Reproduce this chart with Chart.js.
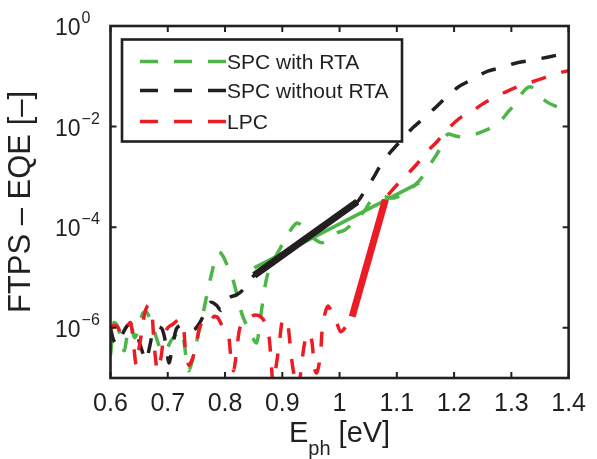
<!DOCTYPE html>
<html>
<head>
<meta charset="utf-8">
<script src="https://cdn.jsdelivr.net/npm/chart.js@4/dist/chart.umd.min.js"></script>
<style>
html,body{margin:0;padding:0;background:#fff;}
#wrap{width:597px;height:459px;position:relative;}
</style>
</head>
<body>
<div id="wrap"><canvas id="c" width="597" height="459"></canvas></div>
<script>
// ---------- DATA ----------
const xTickValues = [0.6, 0.7, 0.8, 0.9, 1.0, 1.1, 1.2, 1.3, 1.4];
const xTickLabels = ['0.6', '0.7', '0.8', '0.9', '1', '1.1', '1.2', '1.3', '1.4'];
const yTickValues = [1e-6, 1e-4, 1e-2, 1];
const yTickExponents = ['\u22126', '\u22124', '\u22122', '0'];

const seriesLabels = ['SPC with RTA', 'SPC without RTA', 'LPC'];

// SPC with RTA (green dashed)
const ephSpcRta = [0.600,0.603,0.606,0.612,0.618,0.624,0.630,0.636,0.642,0.650,0.656,0.662,0.668,0.676,0.683,0.690,0.698,0.706,0.714,0.722,0.728,0.732,0.736,0.742,0.750,0.756,0.762,0.770,0.778,0.785,0.790,0.797,0.805,0.814,0.822,0.830,0.838,0.846,0.855,0.860,0.865,0.872,0.880,0.890,0.900,0.912,0.925,0.935,0.945,0.958,0.968,0.980,0.995,1.010,1.025,1.042,1.054,1.065,1.080,1.095,1.110,1.128,1.143,1.160,1.174,1.183,1.190,1.200,1.212,1.230,1.245,1.263,1.280,1.295,1.306,1.318,1.327,1.333,1.340,1.350,1.362,1.375,1.390];
const eqeSpcRta = [2.8e-7,6.3e-7,1.26e-6,1.1e-6,6.3e-7,3.5e-7,7.9e-7,1.1e-6,6.3e-7,1.0e-6,1.9e-6,2.1e-6,1.6e-6,8.9e-7,5.0e-7,3.2e-7,3.8e-7,5.6e-7,7.1e-7,8.9e-7,5.6e-7,2.5e-7,1.4e-7,2.0e-7,5.0e-7,1.0e-6,2.0e-6,5.6e-6,1.4e-5,2.8e-5,3.2e-5,2.6e-5,1.6e-5,8.9e-6,4.0e-6,1.8e-6,1.1e-6,7.1e-7,5.0e-7,1.1e-6,2.8e-6,8.9e-6,1.8e-5,2.8e-5,4.5e-5,7.9e-5,1.2e-4,1.05e-4,7.1e-5,5.6e-5,4.9e-5,5.6e-5,7.6e-5,8.9e-5,1.26e-4,2.0e-4,3.2e-4,3.8e-4,4.0e-4,3.8e-4,4.5e-4,6.3e-4,9.5e-4,1.9e-3,3.4e-3,6.0e-3,7.1e-3,6.6e-3,6.3e-3,6.6e-3,7.6e-3,9.3e-3,1.26e-2,2.0e-2,2.8e-2,4.5e-2,5.8e-2,6.2e-2,5.6e-2,4.0e-2,3.1e-2,2.6e-2,2.3e-2];

// SPC without RTA (black dashed)
const ephSpcNoRta = [0.600,0.605,0.612,0.620,0.628,0.635,0.642,0.648,0.655,0.662,0.668,0.675,0.682,0.690,0.697,0.702,0.708,0.715,0.722,0.730,0.740,0.748,0.756,0.765,0.775,0.785,0.793,0.800,0.808,0.820,0.831,0.840,0.851,0.900,0.950,1.000,1.031,1.045,1.060,1.074,1.090,1.108,1.127,1.148,1.166,1.187,1.208,1.237,1.256,1.285,1.307,1.337,1.363,1.400];
const eqeSpcNoRta = [1.0e-6,5.8e-7,4.6e-7,7.1e-7,1.05e-6,1.2e-6,8.9e-7,6.3e-7,3.5e-7,2.2e-7,4.0e-7,8.9e-7,1.05e-6,9.5e-7,4.5e-7,2.0e-7,4.0e-7,9.5e-7,1.1e-6,1.0e-6,8.9e-7,9.5e-7,1.26e-6,2.0e-6,3.2e-6,2.8e-6,2.2e-6,3.2e-6,4.0e-6,4.5e-6,5.6e-6,7.9e-6,1.1e-5,2.8e-5,7.2e-5,1.8e-4,3.2e-4,5.5e-4,1.0e-3,1.9e-3,3.2e-3,5.4e-3,9.3e-3,1.5e-2,2.3e-2,3.9e-2,6.2e-2,9.3e-2,0.123,0.151,0.182,0.209,0.240,0.295];

// LPC (red dashed)
const ephLpc = [0.600,0.605,0.612,0.620,0.628,0.635,0.640,0.645,0.650,0.655,0.660,0.666,0.672,0.676,0.682,0.688,0.693,0.700,0.710,0.720,0.727,0.731,0.737,0.745,0.750,0.757,0.765,0.772,0.780,0.787,0.795,0.805,0.810,0.815,0.820,0.826,0.835,0.845,0.853,0.862,0.870,0.877,0.880,0.884,0.890,0.895,0.900,0.905,0.910,0.915,0.920,0.928,0.934,0.940,0.947,0.952,0.956,0.960,0.966,0.970,0.975,0.980,0.987,0.995,1.002,1.012,1.022,1.050,1.080,1.097,1.114,1.134,1.151,1.170,1.187,1.211,1.229,1.256,1.280,1.306,1.331,1.357,1.383,1.400];
const eqeLpc = [8.9e-7,1.1e-6,1.05e-6,7.1e-7,1.0e-6,1.26e-6,5.0e-7,1.8e-7,4.0e-7,8.9e-7,2.0e-6,2.8e-6,2.0e-6,5.0e-7,1.4e-7,2.5e-7,6.3e-7,1.0e-6,1.2e-6,1.45e-6,1.1e-6,3.5e-7,1.8e-7,2.8e-7,5.0e-7,1.1e-6,1.0e-6,1.1e-6,1.66e-6,1.6e-6,1.1e-6,7.9e-7,2.8e-7,1.4e-7,3.2e-7,1.0e-6,1.4e-6,1.66e-6,1.8e-6,1.66e-6,1.26e-6,6.3e-7,2.5e-7,7.9e-8,2.0e-7,5.0e-7,1.4e-6,1.5e-6,1.1e-6,3.2e-7,1.26e-7,6.3e-8,2.0e-7,5.6e-7,7.9e-7,5.0e-7,1.6e-7,1.26e-7,2.5e-7,1.0e-6,2.0e-6,2.7e-6,1.9e-6,1.26e-6,8.3e-7,1.1e-6,1.66e-6,2.2e-5,3.5e-4,6.3e-4,1.0e-3,1.74e-3,3.0e-3,5.0e-3,8.5e-3,1.5e-2,1.95e-2,3.1e-2,4.3e-2,5.9e-2,7.4e-2,9.3e-2,0.117,0.129];

// Fitted (solid) segments
const ephFitSpcRta = [0.851, 1.139];
const eqeFitSpcRta = [1.55e-5, 7.6e-4];
const ephFitSpcNoRta = [0.851, 1.031];
const eqeFitSpcNoRta = [1.1e-5, 3.2e-4];
const ephFitLpc = [1.022, 1.080];
const eqeFitLpc = [1.66e-6, 3.5e-4];

// ---------- STYLE ----------
const GREEN = 'rgb(77,182,72)';
const BLACK = '#231F20';
const RED = 'rgb(236,28,36)';
const FONT = '"Liberation Sans", Arial, Helvetica, sans-serif';
const DASH = [15, 16];

function pts(xs, ys) { return xs.map((x, i) => ({ x: x, y: ys[i] })); }

const frameAndLabels = {
  id: 'frameAndLabels',
  afterDatasetsDraw(chart) {
    const ctx = chart.ctx;
    const a = chart.chartArea;
    const xs = chart.scales.x, ys = chart.scales.y;
    ctx.save();
    // ticks (inward)
    ctx.strokeStyle = BLACK;
    ctx.lineWidth = 2;
    ctx.beginPath();
    xTickValues.forEach(v => {
      const px = xs.getPixelForValue(v);
      ctx.moveTo(px, a.bottom); ctx.lineTo(px, a.bottom - 6);
      ctx.moveTo(px, a.top); ctx.lineTo(px, a.top + 6);
    });
    yTickValues.forEach(v => {
      const py = ys.getPixelForValue(v);
      ctx.moveTo(a.left, py); ctx.lineTo(a.left + 6, py);
      ctx.moveTo(a.right, py); ctx.lineTo(a.right - 6, py);
    });
    ctx.stroke();
    // frame
    ctx.lineWidth = 2.6;
    ctx.strokeRect(a.left, a.top, a.right - a.left, a.bottom - a.top);

    // y tick labels 10^n
    ctx.fillStyle = BLACK;
    ctx.textBaseline = 'alphabetic';
    ctx.textAlign = 'left';
    yTickValues.forEach((v, i) => {
      const py = ys.getPixelForValue(v);
      ctx.font = '23px ' + FONT;
      ctx.fillText('10', 55, py + 9);
      const w = ctx.measureText('10').width;
      ctx.font = '16px ' + FONT;
      ctx.fillText(yTickExponents[i], 55 + w + 1, py - 3);
    });

    // x axis title E_ph [eV]
    ctx.font = '29px ' + FONT;
    const wE = ctx.measureText('E').width;
    const wR = ctx.measureText(' [eV]').width;
    ctx.font = '20px ' + FONT;
    const wS = ctx.measureText('ph').width;
    const total = wE + wS + wR;
    let x0 = (a.left + a.right) / 2 - total / 2;
    ctx.font = '29px ' + FONT;
    ctx.fillText('E', x0, 442);
    ctx.font = '20px ' + FONT;
    ctx.fillText('ph', x0 + wE, 455);
    ctx.font = '29px ' + FONT;
    ctx.fillText(' [eV]', x0 + wE + wS, 442);

    // legend
    const lx = a.left + 11.5, ly = a.top + 13.5, lw = 280, lh = 102;
    ctx.fillStyle = '#fff';
    ctx.fillRect(lx, ly, lw, lh);
    ctx.lineWidth = 2.6;
    ctx.strokeStyle = BLACK;
    ctx.strokeRect(lx, ly, lw, lh);
    const rows = [ly + 22, ly + 51, ly + 82];
    const dsIdx = [0, 1, 2];
    ctx.font = '21px ' + FONT;
    dsIdx.forEach((di, r) => {
      const ds = chart.data.datasets[di];
      ctx.save();
      ctx.strokeStyle = ds.borderColor;
      ctx.lineWidth = 3.5;
      ctx.lineCap = 'butt';
      ctx.setLineDash([18, 16]);
      ctx.beginPath();
      ctx.moveTo(lx + 18, rows[r]);
      ctx.lineTo(lx + 104, rows[r]);
      ctx.stroke();
      ctx.restore();
      ctx.fillStyle = BLACK;
      ctx.fillText(ds.label, lx + 105, rows[r] + 7.5);
    });
    ctx.restore();
  }
};

const common = { pointRadius: 0, pointHoverRadius: 0, fill: false, clip: 0, borderCapStyle: 'butt' };

new Chart(document.getElementById('c'), {
  type: 'line',
  data: {
    datasets: [
      Object.assign({ label: seriesLabels[0], data: pts(ephSpcRta, eqeSpcRta), borderColor: GREEN, borderWidth: 3.5, borderDash: DASH, tension: 0.3, order: 5 }, common),
      Object.assign({ label: seriesLabels[1], data: pts(ephSpcNoRta, eqeSpcNoRta), borderColor: BLACK, borderWidth: 3.5, borderDash: DASH, tension: 0.3, order: 4 }, common),
      Object.assign({ label: seriesLabels[2], data: pts(ephLpc, eqeLpc), borderColor: RED, borderWidth: 3.5, borderDash: DASH, tension: 0.3, order: 3 }, common),
      Object.assign({ label: seriesLabels[0] + ' fit', data: pts(ephFitSpcRta, eqeFitSpcRta), borderColor: GREEN, borderWidth: 3.5, tension: 0, order: 2 }, common),
      Object.assign({ label: seriesLabels[1] + ' fit', data: pts(ephFitSpcNoRta, eqeFitSpcNoRta), borderColor: BLACK, borderWidth: 7, tension: 0, order: 1 }, common),
      Object.assign({ label: seriesLabels[2] + ' fit', data: pts(ephFitLpc, eqeFitLpc), borderColor: RED, borderWidth: 7, tension: 0, order: 0 }, common)
    ]
  },
  options: {
    responsive: false,
    devicePixelRatio: 1,
    animation: false,
    events: [],
    layout: { padding: { top: 26, right: 20, left: 0, bottom: 0 } },
    plugins: { legend: { display: false }, tooltip: { enabled: false }, title: { display: false } },
    scales: {
      x: {
        type: 'linear', min: 0.6, max: 1.4,
        afterBuildTicks: s => { s.ticks = xTickValues.map(v => ({ value: v })); },
        afterFit: s => { s.height = 81; },
        grid: { display: false, drawTicks: false },
        border: { display: false },
        ticks: {
          autoSkip: false, maxRotation: 0, padding: 11, color: BLACK,
          font: { family: FONT, size: 25 },
          callback: (v, i) => xTickLabels[i]
        }
      },
      y: {
        type: 'logarithmic', min: 1e-7, max: 1,
        afterBuildTicks: s => { s.ticks = yTickValues.map(v => ({ value: v })); },
        afterFit: s => { s.width = 110.5; },
        grid: { display: false, drawTicks: false },
        border: { display: false },
        ticks: { display: false },
        title: {
          display: true, text: 'FTPS \u2013 EQE [\u2013]', color: BLACK,
          font: { family: FONT, size: 31 }, padding: { top: 3, bottom: 0 }
        }
      }
    }
  },
  plugins: [frameAndLabels]
});
</script>
</body>
</html>
